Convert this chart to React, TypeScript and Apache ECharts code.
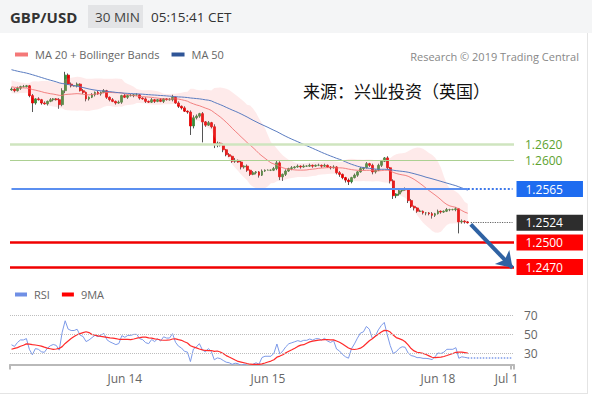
import React, { useEffect, useRef } from 'react';
import * as echarts from 'echarts';

// ---- data ----
const historyCloses = [
  1.2735, 1.2731, 1.2733, 1.2729, 1.2726, 1.2730, 1.2727, 1.2724, 1.2728, 1.2731,
  1.2727, 1.2725, 1.2729, 1.2726, 1.2723, 1.2727, 1.2730, 1.2726,
  1.2729, 1.2727, 1.2730, 1.2726, 1.2728, 1.2724, 1.2722, 1.2719, 1.2721, 1.2716, 1.2712, 1.2707, 1.2703,
  1.2697, 1.2694, 1.2696, 1.2692, 1.2695, 1.2691, 1.2694, 1.2690, 1.2692, 1.2688,
  1.2691, 1.2686, 1.2689, 1.2685, 1.2688, 1.2684, 1.2687, 1.2683, 1.2686,
];

const closes = [
  1.2687, 1.2685, 1.2688, 1.2690, 1.2690, 1.2691, 1.2679, 1.2670, 1.2675, 1.2674,
  1.2670, 1.2669, 1.2672, 1.2674, 1.2675, 1.2674, 1.2668, 1.2685, 1.2704, 1.2693,
  1.2691, 1.2691, 1.2693, 1.2685, 1.2683, 1.2675, 1.2677, 1.2680, 1.2683, 1.2681,
  1.2683, 1.2685, 1.2677, 1.2674, 1.2672, 1.2670, 1.2671, 1.2679, 1.2677, 1.2679,
  1.2679, 1.2680, 1.2680, 1.2676, 1.2675, 1.2672, 1.2671, 1.2674, 1.2672, 1.2674,
  1.2672, 1.2675, 1.2674, 1.2674, 1.2677, 1.2670, 1.2666, 1.2664, 1.2660, 1.2659,
  1.2642, 1.2652, 1.2654, 1.2657, 1.2647, 1.2643, 1.2646, 1.2641, 1.2619, 1.2621,
  1.2619, 1.2613, 1.2607, 1.2605, 1.2599, 1.2600, 1.2598, 1.2592, 1.2593, 1.2588,
  1.2583, 1.2585, 1.2586, 1.2582, 1.2587, 1.2588, 1.2588, 1.2588, 1.2590, 1.2597,
  1.2580, 1.2583, 1.2587, 1.2590, 1.2591, 1.2592, 1.2593, 1.2592, 1.2593, 1.2593,
  1.2594, 1.2593, 1.2594, 1.2594, 1.2593, 1.2594, 1.2592, 1.2591, 1.2592, 1.2585,
  1.2583, 1.2579, 1.2576, 1.2574, 1.2579, 1.2582, 1.2586, 1.2590, 1.2591, 1.2596,
  1.2594, 1.2586, 1.2588, 1.2594, 1.2599, 1.2603, 1.2591, 1.2575, 1.2557, 1.2559,
  1.2563, 1.2565, 1.2564, 1.2551, 1.2544, 1.2542, 1.2538, 1.2538, 1.2536, 1.2536,
  1.2535, 1.2533, 1.2535, 1.2538, 1.2537, 1.2538, 1.2540, 1.2540, 1.2540, 1.2541,
  1.2525, 1.2526, 1.2525, 1.2524,
];

// wick lengths in pips above / below the body
const upperWicks = [
  2, 1, 2, 1, 2, 1, 1, 2, 1, 2, 1, 2, 1, 2, 1, 1, 2, 3, 4, 2,
  2, 1, 2, 1, 2, 1, 1, 2, 1, 2, 1, 2, 1, 1, 2, 1, 2, 1, 2, 1,
  2, 1, 2, 1, 1, 2, 1, 2, 1, 1, 2, 1, 1, 2, 3, 1, 2, 1, 2, 1,
  2, 3, 2, 1, 2, 1, 2, 1, 3, 2, 1, 2, 1, 2, 1, 3, 1, 2, 1, 2,
  1, 2, 1, 1, 2, 1, 1, 1, 2, 3, 2, 1, 2, 1, 2, 1, 2, 1, 2, 1,
  2, 1, 1, 2, 1, 2, 1, 1, 2, 1, 2, 1, 1, 2, 1, 2, 1, 2, 1, 2,
  1, 2, 1, 2, 1, 1, 2, 1, 2, 1, 2, 1, 2, 1, 2, 1, 1, 2, 1, 1,
  1, 2, 1, 2, 1, 1, 2, 1, 1, 2, 1, 2, 1, 1,
];
const lowerWicks = [
  1, 2, 1, 2, 1, 1, 2, 11, 2, 1, 2, 1, 2, 1, 2, 1, 5, 2, 3, 1,
  2, 1, 2, 1, 2, 3, 2, 1, 2, 1, 2, 1, 2, 2, 1, 2, 1, 2, 1, 2,
  1, 2, 1, 2, 1, 2, 1, 1, 2, 1, 1, 2, 1, 1, 2, 1, 2, 2, 1, 2,
  11, 3, 2, 2, 25, 2, 1, 2, 4, 3, 2, 3, 2, 1, 2, 2, 1, 3, 2, 2,
  2, 1, 2, 3, 1, 1, 0, 1, 1, 2, 4, 5, 2, 1, 2, 1, 1, 2, 1, 1,
  1, 2, 1, 1, 2, 1, 1, 2, 1, 2, 3, 2, 3, 4, 2, 1, 2, 1, 2, 1,
  2, 3, 2, 1, 2, 1, 2, 3, 4, 3, 2, 2, 1, 3, 2, 3, 2, 1, 2, 3,
  2, 4, 2, 1, 2, 1, 1, 2, 1, 2, 14, 2, 2, 1,
];

const totalSlots = 169;
const tickIndex = [38, 86, 143, 166];
const tickLabels = ['Jun 14', 'Jun 15', 'Jun 18', 'Jul 1'];

const level1 = 1.2620;
const level2 = 1.2600;
const pivotLevel = 1.2565;
const lastPrice = 1.2524;
const support1 = 1.2500;
const support2 = 1.2470;
const arrowFrom = [154, 1.2522];
const arrowTo = [168, 1.2469];
const rsiLevels = [30, 50, 70];

// ---- derived indicators ----
const H = historyCloses.length;
const N = closes.length;
const allCloses = [...historyCloses, ...closes];
const opens = closes.map((c, i) => (i === 0 ? historyCloses[H - 1] : closes[i - 1]));
const highs = closes.map((c, i) => Math.max(opens[i], c) + upperWicks[i] / 10000);
const lows = closes.map((c, i) => Math.min(opens[i], c) - lowerWicks[i] / 10000);

function smaAt(arr: number[], n: number, idx: number) {
  let s = 0;
  for (let k = idx - n + 1; k <= idx; k++) s += arr[k];
  return s / n;
}
function stdAt(arr: number[], n: number, idx: number, m: number) {
  let s = 0;
  for (let k = idx - n + 1; k <= idx; k++) s += (arr[k] - m) * (arr[k] - m);
  return Math.sqrt(s / n);
}
const ma20 = closes.map((_, i) => smaAt(allCloses, 20, H + i));
const ma50 = closes.map((_, i) => smaAt(allCloses, 50, H + i));
const bbUpper = closes.map((_, i) => ma20[i] + 2 * stdAt(allCloses, 20, H + i, ma20[i]));
const bbLower = closes.map((_, i) => ma20[i] - 2 * stdAt(allCloses, 20, H + i, ma20[i]));

const rsiAll: number[] = new Array(allCloses.length).fill(NaN);
(() => {
  let ag = 0, al = 0;
  for (let k = 1; k <= 14; k++) {
    const d = allCloses[k] - allCloses[k - 1];
    if (d > 0) ag += d; else al -= d;
  }
  ag /= 14; al /= 14;
  rsiAll[14] = 100 - 100 / (1 + ag / al);
  for (let k = 15; k < allCloses.length; k++) {
    const d = allCloses[k] - allCloses[k - 1];
    ag = (ag * 13 + Math.max(d, 0)) / 14;
    al = (al * 13 + Math.max(-d, 0)) / 14;
    rsiAll[k] = al === 0 ? 100 : 100 - 100 / (1 + ag / al);
  }
})();
const rsi = closes.map((_, i) => rsiAll[H + i]);
const rsiMa = closes.map((_, i) => smaAt(rsiAll, 9, H + i));

const categories = Array.from({ length: totalSlots }, (_, i) => String(i));

const tagLabel = (text: string, bg: string, distance: number) => ({
  show: true,
  position: 'end',
  distance,
  formatter: text,
  color: '#fff',
  backgroundColor: bg,
  padding: [2, 20, 1, 9],
  fontSize: 12,
  lineHeight: 13,
  fontFamily: 'Open Sans',
});

export default function App() {
  const ref = useRef<HTMLDivElement>(null);
  useEffect(() => {
    if (!ref.current) return;
    const chart = echarts.init(ref.current, undefined, { renderer: 'svg' });
    const lastRsi = rsi[N - 1];
    const option: any = {
      animation: false,
      textStyle: { fontFamily: 'Open Sans' },
      grid: [
        { left: 10, right: 78, top: 57.9, height: 225.5 },
        { left: 10, right: 78, top: 300.7, height: 63.9 },
      ],
      legend: [
        {
          data: ['MA 20 + Bollinger Bands', 'MA 50'],
          left: 10, top: 44, icon: 'rect', itemWidth: 13, itemHeight: 4, itemGap: 12,
          selectedMode: false,
          textStyle: { color: '#666', fontSize: 11, fontFamily: 'Open Sans', padding: [0, 0, 0, 2] },
        },
        {
          data: ['RSI', '9MA'],
          left: 10, top: 284, icon: 'rect', itemWidth: 12, itemHeight: 4, itemGap: 12,
          selectedMode: false,
          textStyle: { color: '#666', fontSize: 11, fontFamily: 'Open Sans', padding: [0, 0, 0, 2] },
        },
      ],
      xAxis: [
        { type: 'category', gridIndex: 0, data: categories, boundaryGap: true, show: false },
        {
          type: 'category', gridIndex: 1, data: categories, boundaryGap: true,
          axisLine: { lineStyle: { color: '#b9b9b9', width: 2 } },
          axisTick: {
            show: true, length: 5, lineStyle: { color: '#b9b9b9', width: 2 },
            interval: (i: number) => i === 0 || i === totalSlots - 1 || i === totalSlots,
          },
          axisLabel: {
            interval: (i: number) => tickIndex.includes(i),
            formatter: (_v: string, i: number) => {
              const k = tickIndex.indexOf(i);
              return k >= 0 ? tickLabels[k] : '';
            },
            color: '#666', fontSize: 12, margin: 8,
          },
          splitLine: { show: false },
        },
      ],
      yAxis: [
        { type: 'value', gridIndex: 0, min: 1.2450, max: 1.2725, show: false, splitLine: { show: false } },
        {
          type: 'value', gridIndex: 1, min: 18, max: 86, interval: 2, position: 'right',
          axisLine: { show: false }, axisTick: { show: false }, splitLine: { show: false },
          axisLabel: {
            formatter: (v: number) => (rsiLevels.includes(Math.round(v)) && Math.abs(v - Math.round(v)) < 1e-6 ? String(Math.round(v)) : ''),
            color: '#666', fontSize: 12, margin: 10,
          },
        },
      ],
      graphic: [
        { type: 'rect', shape: { x: 0, y: 0, width: 592, height: 33 }, style: { fill: '#f4f5f6' }, z: -1 },
        { type: 'rect', shape: { x: 88, y: 5, width: 55, height: 23 }, style: { fill: '#e3e4e6' } },
        { type: 'text', x: 10, y: 17, style: { text: 'GBP/USD', font: 'bold 15px "Open Sans"', fill: '#333', verticalAlign: 'middle' } },
        { type: 'text', x: 95, y: 17, style: { text: '30 MIN', font: '13.5px "Open Sans"', fill: '#444', verticalAlign: 'middle' } },
        { type: 'text', x: 151, y: 17, style: { text: '05:15:41 CET', font: '13.5px "Open Sans"', fill: '#333', verticalAlign: 'middle' } },
        { type: 'text', x: 579, y: 56, style: { text: 'Research © 2019 Trading Central', font: '11px "Open Sans"', fill: '#888', align: 'right', verticalAlign: 'middle' } },
        { type: 'text', x: 303, y: 90, style: { text: '来源：兴业投资（英国）', font: '17px "Noto Sans CJK SC"', fill: '#111', verticalAlign: 'middle' } },
        { type: 'line', shape: { x1: 587.5, y1: 33, x2: 587.5, y2: 393.5 }, style: { stroke: '#e4e4e4', lineWidth: 1 } },
        { type: 'line', shape: { x1: 0, y1: 393.5, x2: 588, y2: 393.5 }, style: { stroke: '#e4e4e4', lineWidth: 1 } },
      ],
      series: [
        {
          name: 'bbLower', type: 'line', xAxisIndex: 0, yAxisIndex: 0, data: bbLower, stack: 'bb',
          symbol: 'none', lineStyle: { width: 0, opacity: 0 }, silent: true,
        },
        {
          name: 'bbSpread', type: 'line', xAxisIndex: 0, yAxisIndex: 0,
          data: bbUpper.map((u, i) => u - bbLower[i]), stack: 'bb',
          symbol: 'none', lineStyle: { width: 0, opacity: 0 }, silent: true,
          areaStyle: { color: 'rgba(250,150,150,0.28)' },
        },
        {
          name: 'MA 20 + Bollinger Bands', type: 'line', xAxisIndex: 0, yAxisIndex: 0, data: ma20,
          symbol: 'none', color: '#f47878', lineStyle: { width: 1, color: 'rgba(240,110,110,0.85)' }, silent: true,
          markLine: {
            silent: true, symbol: ['none', 'none'], animation: false, precision: 4,
            data: [
              { yAxis: level1, lineStyle: { color: '#cfe5bf', width: 2.5, type: 'solid' },
                label: { show: true, position: 'end', distance: 11, formatter: level1.toFixed(4), color: '#5da22f', fontSize: 12, fontFamily: 'Open Sans' } },
              { yAxis: level2, lineStyle: { color: '#acd092', width: 1, type: 'solid' },
                label: { show: true, position: 'end', distance: 11, formatter: level2.toFixed(4), color: '#5da22f', fontSize: 12, fontFamily: 'Open Sans' } },
              [
                { coord: [0, pivotLevel], lineStyle: { color: '#5b8ff0', width: 2, type: 'solid' }, label: { show: false } },
                { coord: [N - 1, pivotLevel] },
              ],
              [
                { coord: [N - 1, pivotLevel], lineStyle: { color: '#3d78ea', width: 2, type: 'dotted' }, label: tagLabel(pivotLevel.toFixed(4), '#1e6cf0', 4) },
                { coord: [totalSlots - 1, pivotLevel] },
              ],
              [
                { coord: [N, lastPrice], lineStyle: { color: '#666', width: 1.2, type: 'dotted' }, label: tagLabel(lastPrice.toFixed(4), '#2d2d2d', 4) },
                { coord: [totalSlots - 1, lastPrice] },
              ],
              { yAxis: support1, lineStyle: { color: '#f00000', width: 2.5, type: 'solid' }, label: tagLabel(support1.toFixed(4), '#ff0000', 2.5) },
              { yAxis: support2, lineStyle: { color: '#f00000', width: 2.5, type: 'solid' }, label: tagLabel(support2.toFixed(4), '#ff0000', 2.5) },
            ],
          },
        },
        {
          name: 'MA 50', type: 'line', xAxisIndex: 0, yAxisIndex: 0, data: ma50,
          symbol: 'none', color: '#2f5597', lineStyle: { width: 1, color: '#5a7cc0' }, silent: true,
          markLine: {
            silent: true, symbol: ['none', 'arrow'], symbolSize: 15, animation: false, precision: 4,
            lineStyle: { color: '#2f62a3', width: 4, type: 'solid' },
            label: { show: false },
            data: [[{ coord: arrowFrom }, { coord: arrowTo }]],
          },
        },
        {
          name: 'wicks', type: 'candlestick', xAxisIndex: 0, yAxisIndex: 0, barWidth: 1, silent: true,
          data: closes.map((c, i) => [opens[i], c, lows[i], highs[i]]),
          itemStyle: { color: '#555', color0: '#555', borderColor: '#555', borderColor0: '#555', borderWidth: 1 },
        },
        {
          name: 'bodies', type: 'candlestick', xAxisIndex: 0, yAxisIndex: 0, barWidth: 2.4, silent: true,
          data: closes.map((c, i) => [opens[i], c, Math.min(opens[i], c), Math.max(opens[i], c)]),
          itemStyle: { color: '#3a8a3a', color0: '#e40000', borderColor: '#3a8a3a', borderColor0: '#e40000', borderWidth: 0.8 },
        },
        {
          name: 'RSI', type: 'line', xAxisIndex: 1, yAxisIndex: 1, data: rsi,
          symbol: 'none', color: '#6f8fe5', lineStyle: { width: 1, color: '#7d9ae8' }, silent: true,
          markLine: {
            silent: true, symbol: ['none', 'none'], animation: false, label: { show: false }, precision: 4,
            data: [
              ...rsiLevels.map((v) => ({ yAxis: v, lineStyle: { color: '#bdbdbd', width: 1, type: 'dotted' } })),
              [
                { coord: [N - 1, lastRsi], lineStyle: { color: '#7d9ae8', width: 1.5, type: 'dotted' } },
                { coord: [totalSlots - 1, lastRsi] },
              ],
            ],
          },
        },
        {
          name: '9MA', type: 'line', xAxisIndex: 1, yAxisIndex: 1, data: rsiMa,
          symbol: 'none', color: '#ff0000', lineStyle: { width: 1.2, color: '#ff2a2a' }, silent: true,
        },
      ],
    };
    chart.setOption(option);
    return () => chart.dispose();
  }, []);
  return <div ref={ref} style={{ position: 'fixed', left: 0, top: 0, width: 592, height: 396, background: '#fff' }} />;
}
